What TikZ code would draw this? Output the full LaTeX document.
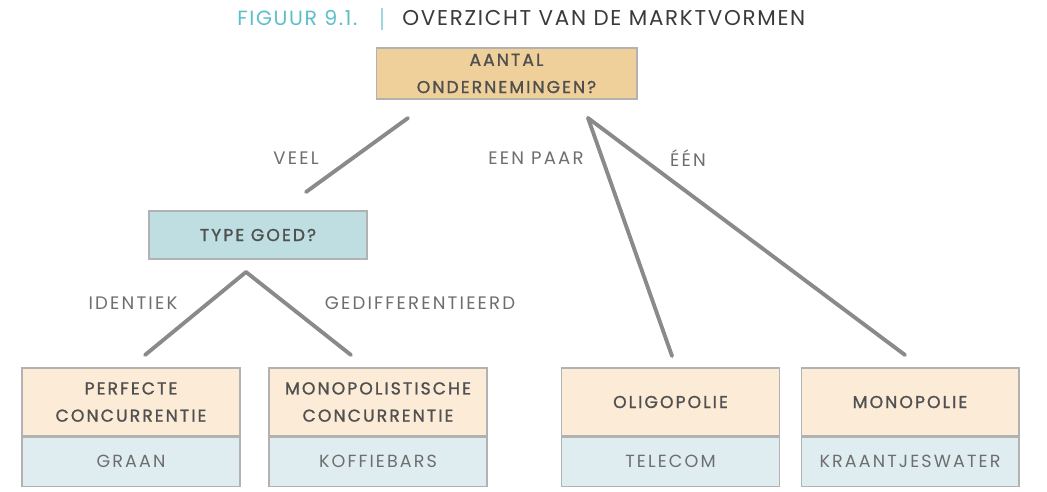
\documentclass[tikz,border=0pt]{standalone}
\usepackage{fontspec}
\usetikzlibrary{positioning}
\newfontfamily\boxfont{Poppins}[LetterSpace=12, FakeBold=1.2]
\newfontfamily\labelfont{Poppins}[LetterSpace=12]
\newfontfamily\titlefont{Poppins}[LetterSpace=8]
\definecolor{topfill}{HTML}{F0D09A}
\definecolor{typefill}{HTML}{BFDEE2}
\definecolor{kindfill}{HTML}{FBEBD7}
\definecolor{examplefill}{HTML}{DFEDF1}
\definecolor{boxline}{HTML}{B2B2B2}
\definecolor{branchline}{HTML}{8A8A8A}
\definecolor{boxtext}{HTML}{505050}
\definecolor{labeltext}{HTML}{6E6E6E}
\definecolor{titleteal}{HTML}{5BBFCB}
\definecolor{titletext}{HTML}{3A3A3A}

\begin{document}
\begin{tikzpicture}[x=0.02cm, y=-0.02cm,
  box/.style={draw=boxline, line width=0.6pt, align=center, inner sep=0pt, text=boxtext, font=\boxfont\fontsize{9.8}{15.5}\selectfont},
  question/.style={box, minimum width=4.36cm, minimum height=0.96cm},
  kind/.style={box, fill=kindfill, minimum width=4.36cm, minimum height=1.36cm},
  example/.style={box, fill=examplefill, minimum width=4.36cm, minimum height=0.98cm, text=labeltext, font=\labelfont\fontsize{10}{15}\selectfont},
  branch/.style={draw=branchline, line width=2.2pt, line cap=round},
  choice/.style={text=labeltext, font=\labelfont\fontsize{10.3}{12}\selectfont}]

\useasboundingbox (0,0) rectangle (1047,491);

% title
\node[anchor=base west, inner sep=0pt, text=titleteal, font=\titlefont\fontsize{11.7}{13}\selectfont] (fignr) at (237,25) {FIGUUR 9.1.};
\node[anchor=base west, inner sep=0pt, text=titletext, font=\titlefont\fontsize{12.2}{13}\selectfont] (figtitle) at (402,25) {OVERZICHT VAN DE MARKTVORMEN};
\draw[titleteal!60, line width=1pt] (382,8) -- (382,30);

% questions
\node[question, fill=topfill, minimum width=5.22cm, minimum height=1.02cm] (aantal) at (506.5,73.5) {AANTAL\\ONDERNEMINGEN?};
\node[question, fill=typefill] (type) at (258,235) {TYPE GOED?};

% market forms
\node[kind] (perfect) at (131,402) {PERFECTE\\CONCURRENTIE};
\node[kind] (monopol) at (378,402) {MONOPOLISTISCHE\\CONCURRENTIE};
\node[kind] (oligo) at (670.5,402) {OLIGOPOLIE};
\node[kind] (mono) at (910,402) {MONOPOLIE};
\node[example, below=0pt of perfect] (graan) {GRAAN};
\node[example, below=0pt of monopol] (koffie) {KOFFIEBARS};
\node[example, below=0pt of oligo] (telecom) {TELECOM};
\node[example, below=0pt of mono] (water) {KRAANTJESWATER};

% branch ends
\coordinate (aantalL) at (408,118);
\coordinate (aantalR) at (588,118);
\coordinate (typeT) at (306,192);
\coordinate (typeB) at (246,272);
\coordinate (perfectT) at (145,355);
\coordinate (monopolT) at (351,355);
\coordinate (oligoT) at (672,356);
\coordinate (monoT) at (905,355);

\path[branch] (aantalL) -- (typeT);
\path[branch] (aantalR) -- (oligoT);
\path[branch] (aantalR) -- (monoT);
\path[branch] (typeB) -- (perfectT);
\path[branch] (typeB) -- (monopolT);

% branch labels
\node[choice] (veel) at (296,158) {VEEL};
\node[choice] (paar) at (536,158) {EEN PAAR};
\node[choice] (een) at (688,158) {ÉÉN};
\node[choice] (ident) at (133,303) {IDENTIEK};
\node[choice] (gedif) at (420,303) {GEDIFFERENTIEERD};
\end{tikzpicture}
\end{document}
